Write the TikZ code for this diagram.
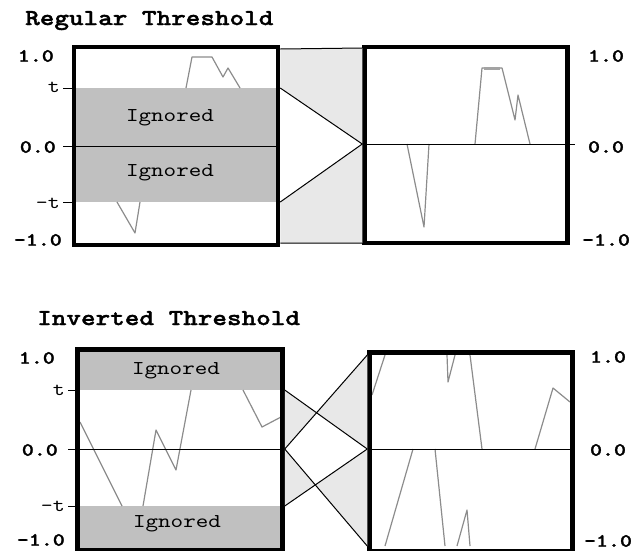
\documentclass[tikz,border=0pt]{standalone}
\usepackage{fontspec}
\newfontfamily\courfont{lmmono10-regular.otf}[BoldFont=lmmonolt10-bold.otf,BoldFeatures={FakeBold=1.5},FakeStretch=1.22]
\usetikzlibrary{calc}
\definecolor{bandgray}{RGB}{192,192,192}
\definecolor{funnelgray}{RGB}{232,232,232}
\definecolor{siggray}{RGB}{140,140,140}

\begin{document}
\begin{tikzpicture}
      [   x=1pt,y=-1pt,
          frame/.style={draw=black,line width=4.5pt,inner sep=0pt},
          band/.style={fill=bandgray},
          funnel/.style={fill=funnelgray},
          sig/.style={draw=siggray,line width=1.2pt,line join=round},
          axis/.style={draw=black,line width=1pt},
          title/.style={font=\courfont\bfseries\fontsize{22.8}{24}\selectfont,anchor=base west,inner sep=0pt},
          lab/.style={font=\courfont\bfseries\fontsize{18.7}{20}\selectfont,inner sep=0pt},
          tlab/.style={font=\courfont\fontsize{18.7}{20}\selectfont,inner sep=0pt,anchor=east},
          ign/.style={font=\courfont\fontsize{19.6}{21}\selectfont,inner sep=0pt},
      ]
      \useasboundingbox (0,0) rectangle (644,550);

      % regular threshold
      \node[title] (reg) at (25,25) {Regular Threshold};
      \fill[band] (76,88) rectangle (277,202);
      \node[ign] (ig-1) at (170,118) {Ignored};
      \node[ign] (ig-2) at (170,173) {Ignored};
      \draw[sig] (186,88) -- (192,57) -- (212,57) -- (223,77) -- (228,68) -- (240,88);
      \draw[sig] (117,202) -- (135,233) -- (140,202);
      \draw[sig] (407,144) -- (424,227) -- (429,144);
      \draw[sig] (475,144) -- (482,68) -- (502,68) -- (515,120) -- (518,95) -- (530,144);
      \draw[sig,line width=3pt,siggray!80] (484,68) -- (500,68);
      \foreach \yy in {88,202}
          \draw[axis] (63,\yy) -- (76,\yy);
      \draw[axis] (63,146) -- (278,146);
      \draw[axis] (364,144) -- (575,144);
      \node[frame,minimum width=204pt,minimum height=198pt] (rl) at (176,146) {};
      \node[frame,minimum width=203pt,minimum height=196pt] (rr) at (466,145) {};
      \foreach \yy/\txt/\xx in {56/1.0/54,147/0.0/56,240/-1.0/62}
          \node[lab,anchor=east] (rl-\yy) at (\xx,\yy) {\txt};
      \node[tlab] (rl-t) at (60,87) {t};
      \node[tlab] (rl-nt) at (60,203) {-t};
      \foreach \yy/\txt in {56/1.0,147/0.0,240/-1.0}
          \node[lab] (rr-\yy) at (606,\yy) {\txt};

      \coordinate (a-top) at (rl.east |- 0,49);
      \coordinate (a-t) at (rl.east |- 0,88);
      \coordinate (a-nt) at (rl.east |- 0,202);
      \coordinate (a-bot) at (rl.east |- 0,243);
      \coordinate (b-top) at (rr.west |- 0,48);
      \coordinate (b-zero) at (rr.west |- 0,144);
      \coordinate (b-bot) at (rr.west |- 0,243);
      \fill[funnel] (a-top) -- (b-top) -- (b-zero) -- (a-t) -- cycle;
      \fill[funnel] (a-nt) -- (b-zero) -- (b-bot) -- (a-bot) -- cycle;
      \draw[axis] (a-top) -- (b-top) (a-bot) -- (b-bot);
      \draw[axis] (a-t) -- (b-zero) -- (a-nt);

      % inverted threshold
      \node[title] (inv) at (37,325) {Inverted Threshold};
      \fill[band] (79,352) rectangle (281,390);
      \fill[band] (79,506) rectangle (281,548);
      \node[ign] (ig-3) at (176,371) {Ignored};
      \node[ign] (ig-4) at (177,524) {Ignored};
      \draw[sig] (80,422) -- (122,506);
      \draw[sig] (143,506) -- (156,430) -- (176,470) -- (191,390);
      \draw[sig] (243,390) -- (262,427) -- (281,417);
      \draw[sig] (372,395) -- (385,355);
      \draw[sig] (447,355) -- (448,382) -- (455,355);
      \draw[sig] (470,355) -- (482,449);
      \draw[sig] (535,449) -- (553,388) -- (570,402);
      \draw[sig] (385,546) -- (413,449);
      \draw[sig] (435,449) -- (445,546);
      \draw[sig] (457,546) -- (467,510) -- (470,546);
      \foreach \yy in {390,506}
          \draw[axis] (68,\yy) -- (79,\yy);
      \draw[axis] (68,449) -- (282,449);
      \draw[axis] (369,449) -- (572,449);
      \node[frame,minimum width=205pt,minimum height=201pt] (il) at (180,450) {};
      \node[frame,minimum width=203pt,minimum height=199pt] (ir) at (471,452) {};
      \foreach \yy/\txt/\xx in {358/1.0/55,450/0.0/58,540/-1.0/65}
          \node[lab,anchor=east] (il-\yy) at (\xx,\yy) {\txt};
      \node[tlab] (il-t) at (65,390) {t};
      \node[tlab] (il-nt) at (65,506) {-t};
      \foreach \yy/\txt in {357/1.0,450/0.0,541/-1.0}
          \node[lab] (ir-\yy) at (608,\yy) {\txt};

      \coordinate (c-t) at (il.east |- 0,390);
      \coordinate (c-zero) at (il.east |- 0,449);
      \coordinate (c-nt) at (il.east |- 0,506);
      \coordinate (d-top) at (ir.west |- 0,355);
      \coordinate (d-zero) at (ir.west |- 0,449);
      \coordinate (d-bot) at (ir.west |- 0,546);
      \coordinate (x-1) at (intersection of c-t--d-zero and c-zero--d-top);
      \coordinate (x-2) at (intersection of c-zero--d-bot and c-nt--d-zero);
      \fill[funnel] (c-t) -- (x-1) -- (c-zero) -- cycle;
      \fill[funnel] (d-top) -- (x-1) -- (d-zero) -- cycle;
      \fill[funnel] (c-zero) -- (x-2) -- (c-nt) -- cycle;
      \fill[funnel] (d-zero) -- (x-2) -- (d-bot) -- cycle;
      \draw[axis] (c-t) -- (d-zero) (c-zero) -- (d-top);
      \draw[axis] (c-zero) -- (d-bot) (c-nt) -- (d-zero);
\end{tikzpicture}
\end{document}
